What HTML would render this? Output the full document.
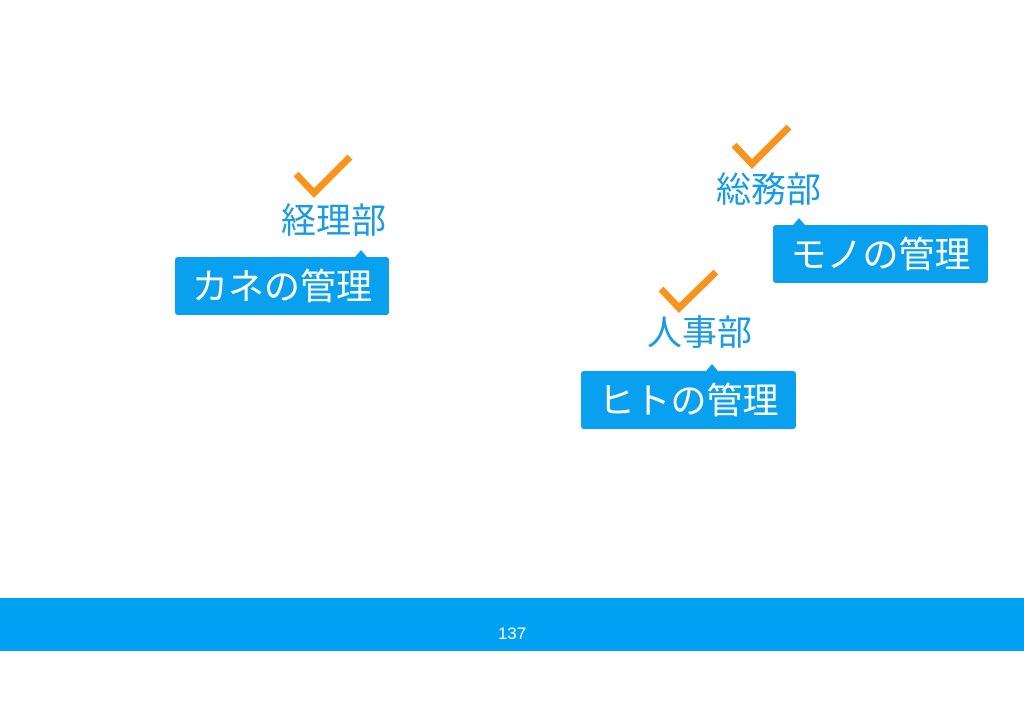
<!DOCTYPE html>
<html><head><meta charset="utf-8"><style>
body{margin:0;width:1024px;height:724px;background:#fff;position:relative;overflow:hidden;font-family:"Liberation Sans","Noto Sans CJK JP",sans-serif}
.l{position:absolute;color:#1a9be6;font-size:35px;line-height:36px;white-space:nowrap}
.b{position:absolute;background:#0aa0f0;border-radius:3px;color:#fff;font-size:36px;line-height:60px;height:58px;text-align:center;white-space:nowrap}
.b:before{content:"";position:absolute;top:-7px;left:var(--p);border-left:6px solid transparent;border-right:6px solid transparent;border-bottom:7px solid #0aa0f0;margin-left:-6px}
.bar{position:absolute;left:0;top:598px;width:1024px;height:53px;background:#00a0f5;color:#fff;font-size:17px;text-align:center;line-height:72px}
</style></head><body>
<svg width="1024" height="724" style="position:absolute;left:0;top:0">
<g fill="none" stroke="#f7941d" stroke-width="7">
<polyline points="296,174 314,193 350,157"/>
<polyline points="734,145 752,164 789,127"/>
<polyline points="661,289 679,308 716,272"/>
</g></svg>
<div class="l" style="left:281px;top:204px">経理部</div>
<div class="b" style="left:175px;top:257px;width:214px;--p:186px">カネの管理</div>
<div class="l" style="left:716px;top:173px">総務部</div>
<div class="b" style="left:773px;top:225px;width:215px;--p:26px">モノの管理</div>
<div class="l" style="left:647px;top:316px">人事部</div>
<div class="b" style="left:581px;top:371px;width:215px;--p:131px">ヒトの管理</div>
<div class="bar">137</div>
</body></html>
